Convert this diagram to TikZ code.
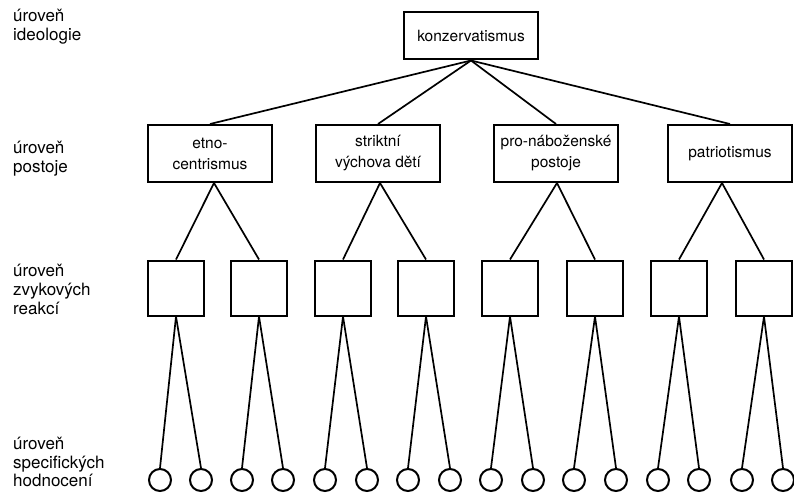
\documentclass[tikz,border=0pt]{standalone}
\usepackage{fontspec}
\setmainfont{TeX Gyre Heros}
\begin{document}
\begin{tikzpicture}[x=1pt,y=-1pt,
  every node/.style={font=\fontsize{15.5}{19}\selectfont},
  lvl/.style={anchor=north west, inner sep=0pt, align=left, font=\fontsize{17}{19}\selectfont},
  topbox/.style={draw, line width=2pt, minimum width=134pt, minimum height=47pt, inner sep=0pt},
  attbox/.style={draw, line width=2pt, minimum width=124pt, minimum height=57pt, inner sep=0pt, align=center, font=\fontsize{15.5}{21}\selectfont},
  sqbox/.style={draw, line width=2pt, minimum width=56pt, minimum height=55pt, inner sep=0pt},
  evalc/.style={draw, circle, line width=2pt, minimum size=22pt, inner sep=0pt},
  conn/.style={line width=1.7pt}]
\useasboundingbox[fill=white] (0,0) rectangle (794,492);

% level labels
\node[lvl] (l1) at (13,9) {úroveň\\ideologie};
\node[lvl] (l2) at (13,141) {úroveň\\postoje};
\node[lvl] (l3) at (13,264) {úroveň\\zvykových\\reakcí};
\node[lvl, font=\fontsize{17}{18.5}\selectfont] (l4) at (13,437) {úroveň\\specifických\\hodnocení};

% ideology
\node[topbox] (top) at (471,36) {konzervatismus};

% attitudes
\node[attbox] (a1) at (210,153.5) {etno-\\centrismus};
\node[attbox] (a2) at (378,153.5) {striktní\\výchova dětí};
\node[attbox] (a3) at (556,153.5) {pro-náboženské\\postoje};
\node[attbox] (a4) at (730,153.5) {patriotismus};

% habitual responses
\foreach \i/\x in {1/176,2/259,3/343,4/426,5/510,6/595,7/679,8/764}
  \node[sqbox] (s\i) at (\x,288) {};

% specific evaluations
\foreach \i/\x in {1/160,2/201,3/242,4/283,5/325,6/367,7/408,8/450,9/491,10/533,11/574,12/616,13/658,14/699,15/742,16/783}
  \node[evalc] (c\i) at (\x,480) {};

% connectors: ideology -> attitudes
\foreach \j in {1,2,3,4}
  \draw[conn] (top.south) -- (a\j.north);

% attitudes -> squares
\coordinate (p1) at ([xshift=4pt]a1.south);
\coordinate (p2) at ([xshift=2pt]a2.south);
\coordinate (p3) at ([xshift=1pt]a3.south);
\coordinate (p4) at ([xshift=-8pt]a4.south);
\draw[conn] (p1) -- (s1.north);
\draw[conn] (p1) -- (s2.north);
\draw[conn] (p2) -- (s3.north);
\draw[conn] (p2) -- (s4.north);
\draw[conn] (p3) -- (s5.north);
\draw[conn] (p3) -- (s6.north);
\draw[conn] (p4) -- (s7.north);
\draw[conn] (p4) -- (s8.north);

% squares -> circles
\foreach \s/\ca/\cb in {1/1/2,2/3/4,3/5/6,4/7/8,5/9/10,6/11/12,7/13/14,8/15/16}{
  \draw[conn] (s\s.south) -- (c\ca.north);
  \draw[conn] (s\s.south) -- (c\cb.north);
}
\end{tikzpicture}
\end{document}
